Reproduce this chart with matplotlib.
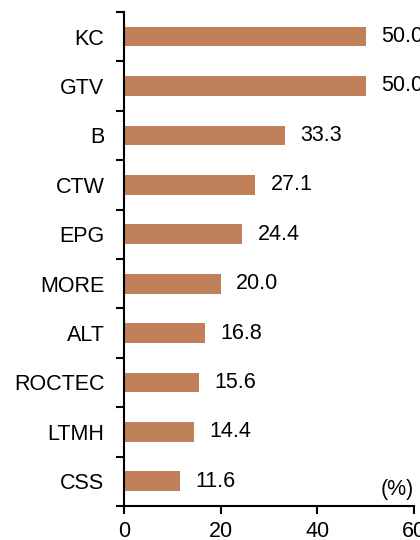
import numpy as np
import matplotlib.pyplot as plt

categories = ["KC", "GTV", "B", "CTW", "EPG", "MORE", "ALT", "ROCTEC", "LTMH", "CSS"]
values = [50.0, 50.0, 33.3, 27.1, 24.4, 20.0, 16.8, 15.6, 14.4, 11.6]
x_ticks = [0, 20, 40, 60]

plt.rcParams['font.family'] = ['Liberation Sans', 'DejaVu Sans']
FS = 15.5

fig = plt.figure(figsize=(4.2, 5.4), dpi=100)
ax = fig.add_axes([0.295, 0.063, 0.691, 0.915])

pos = np.arange(len(categories))
ax.barh(pos, values, height=0.4, color='#C0805A')

for p, v in zip(pos, values):
    ax.text(v + 3.2, p, f"{v:.1f}", va='center', ha='left', fontsize=FS, clip_on=False)

ax.set_xlim(0, 60)
ax.set_ylim(len(categories) - 0.5, -0.5)
ax.set_xticks(x_ticks)
ax.set_xticklabels([str(t) for t in x_ticks], fontsize=FS)

# category labels without ticks, ticks at boundaries
ax.set_yticks(pos)
ax.set_yticklabels(categories, fontsize=FS)
ax.tick_params(axis='y', which='major', length=0, pad=14)
ax.set_yticks(np.arange(-0.5, len(categories)), minor=True)
ax.tick_params(axis='y', which='minor', length=6, width=1.5, direction='out')
ax.tick_params(axis='x', which='major', length=6, width=1.5, direction='out', pad=5)

for s in ['top', 'right']:
    ax.spines[s].set_visible(False)
for s in ['left', 'bottom']:
    ax.spines[s].set_linewidth(1.5)

ax.text(1.0, 0.012, "(%)", transform=ax.transAxes, ha='right', va='bottom', fontsize=FS)

fig.savefig("out.png", dpi=100)
